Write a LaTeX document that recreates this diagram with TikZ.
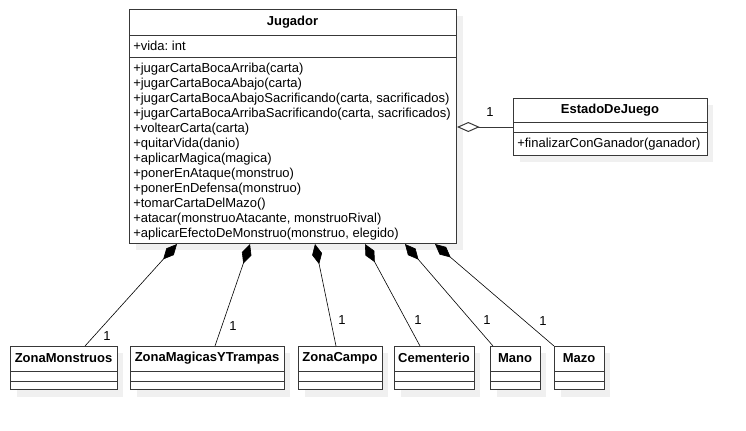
\documentclass[tikz,border=0pt]{standalone}
\usepackage{fontspec}
\setmainfont{Liberation Sans}
\usetikzlibrary{positioning,calc,arrows.meta}
\frenchspacing

\tikzset{
  classbox/.style={draw=black!78, line width=0.75pt, fill=white, rectangle, inner sep=0pt, anchor=north west},
  compo/.style={draw=black, line width=0.45pt, {Diamond[length=15.5pt,width=7.5pt]}-},
  aggr/.style={draw=black!78, line width=0.75pt, {Diamond[open,length=17pt,width=7.5pt,fill=white]}-},
  umltext/.style={inner sep=0pt, font=\fontsize{9.75}{11.25}\selectfont},
  umltitle/.style={inner sep=0pt, font=\fontsize{9.75}{11.25}\selectfont\bfseries},
  mult/.style={inner sep=0pt, font=\fontsize{9.75}{11.25}\selectfont}
}

\begin{document}
\begin{tikzpicture}[x=0.75pt,y=0.75pt,yscale=-1,xscale=1]
\path[use as bounding box] (0,0) rectangle (746,430);

%Shape: Shadows
\fill[black!6] (136,16) rectangle (463,250);
\fill[black!6] (520,105) rectangle (713,162);
\fill[black!6] (17,353) rectangle (123,397);
\fill[black!6] (137,353) rectangle (290,397);
\fill[black!6] (305,353) rectangle (388,397);
\fill[black!6] (401,353) rectangle (480,397);
\fill[black!6] (497,353) rectangle (546,397);
\fill[black!6] (561,353) rectangle (610,397);

%Shape: Rectangle [Jugador]
\node[classbox, minimum width=327*0.75pt, minimum height=234*0.75pt] (jugador) at (129,9) {};
\draw[draw=black!78, line width=0.75pt] (129,35) -- (456,35) ;
\draw[draw=black!78, line width=0.75pt] (129,57) -- (456,57) ;

%Shape: Rectangle [EstadoDeJuego]
\node[classbox, minimum width=194*0.75pt, minimum height=57*0.75pt] (estado) at (513,98) {};
\draw[draw=black!78, line width=0.75pt] (513,122) -- (707,122) ;
\draw[draw=black!78, line width=0.75pt] (513,132) -- (707,132) ;

%Shape: Rectangle [zonas]
\node[classbox, minimum width=107*0.75pt, minimum height=43*0.75pt] (monstruos) at (10,346) {};
\node[classbox, minimum width=154*0.75pt, minimum height=43*0.75pt] (magicas) at (130,346) {};
\node[classbox, minimum width=84*0.75pt, minimum height=43*0.75pt] (campo) at (298,346) {};
\node[classbox, minimum width=80*0.75pt, minimum height=43*0.75pt] (cementerio) at (394,346) {};
\node[classbox, minimum width=50*0.75pt, minimum height=43*0.75pt] (mano) at (490,346) {};
\node[classbox, minimum width=50*0.75pt, minimum height=43*0.75pt] (mazo) at (554,346) {};
\draw[draw=black!78, line width=0.75pt] (10,371) -- (117,371) (10,381) -- (117,381) ;
\draw[draw=black!78, line width=0.75pt] (130,371) -- (284,371) (130,381) -- (284,381) ;
\draw[draw=black!78, line width=0.75pt] (298,371) -- (382,371) (298,381) -- (382,381) ;
\draw[draw=black!78, line width=0.75pt] (394,371) -- (474,371) (394,381) -- (474,381) ;
\draw[draw=black!78, line width=0.75pt] (490,371) -- (540,371) (490,381) -- (540,381) ;
\draw[draw=black!78, line width=0.75pt] (554,371) -- (604,371) (554,381) -- (604,381) ;

%Straight Lines [aggregation]
\draw[aggr] (jugador.east |- 0,127) -- (estado.west |- 0,127) ;

%Straight Lines [compositions]
\draw[compo] ($(jugador.south west)+(48,0)$) -- ($(monstruos.north west)+(75,0)$) ;
\draw[compo] ($(jugador.south west)+(121,0)$) -- ($(magicas.north west)+(85,0)$) ;
\draw[compo] ($(jugador.south west)+(186,0)$) -- ($(campo.north west)+(38,0)$) ;
\draw[compo] ($(jugador.south west)+(236,0)$) -- ($(cementerio.north west)+(26,0)$) ;
\draw[compo] ($(jugador.south west)+(276,0)$) -- ($(mano.north west)+(3,0)$) ;
\draw[compo] ($(jugador.south west)+(306,0)$) -- (mazo.north west) ;

% Text Node
\node[umltitle] (tJugador) at (292.5,22) {Jugador};
% Text Node
\node[umltext, anchor=west] (tVida) at (133,46) {+vida: int};
% Text Node
\node[umltext, anchor=north west, align=left] (tMetodos) at (133,62.5) {+jugarCartaBocaArriba(carta)\\
+jugarCartaBocaAbajo(carta)\\
+jugarCartaBocaAbajoSacrificando(carta, sacrificados)\\
+jugarCartaBocaArribaSacrificando(carta, sacrificados)\\
+voltearCarta(carta)\\
+quitarVida(danio)\\
+aplicarMagica(magica)\\
+ponerEnAtaque(monstruo)\\
+ponerEnDefensa(monstruo)\\
+tomarCartaDelMazo()\\
+atacar(monstruoAtacante, monstruoRival)\\
+aplicarEfectoDeMonstruo(monstruo, elegido)};
% Text Node
\node[umltitle] (tEstado) at (610,110) {EstadoDeJuego};
% Text Node
\node[umltext, anchor=west] (tFinalizar) at (517,144) {+finalizarConGanador(ganador)};
% Text Node
\node[umltitle] (tMonstruos) at (63.5,358) {ZonaMonstruos};
\node[umltitle] (tMagicas) at (207,358) {ZonaMagicasYTrampas};
\node[umltitle] (tCampo) at (340,358) {ZonaCampo};
\node[umltitle] (tCementerio) at (434,358) {Cementerio};
\node[umltitle] (tMano) at (515,358) {Mano};
\node[umltitle] (tMazo) at (579,358) {Mazo};
% Text Node
\node[mult] (m0) at (490,112) {1};
\node[mult] (m1) at (107,336) {1};
\node[mult] (m2) at (233,326) {1};
\node[mult] (m3) at (342,320) {1};
\node[mult] (m4) at (418,320) {1};
\node[mult] (m5) at (487,320) {1};
\node[mult] (m6) at (543,321) {1};
\end{tikzpicture}
\end{document}
